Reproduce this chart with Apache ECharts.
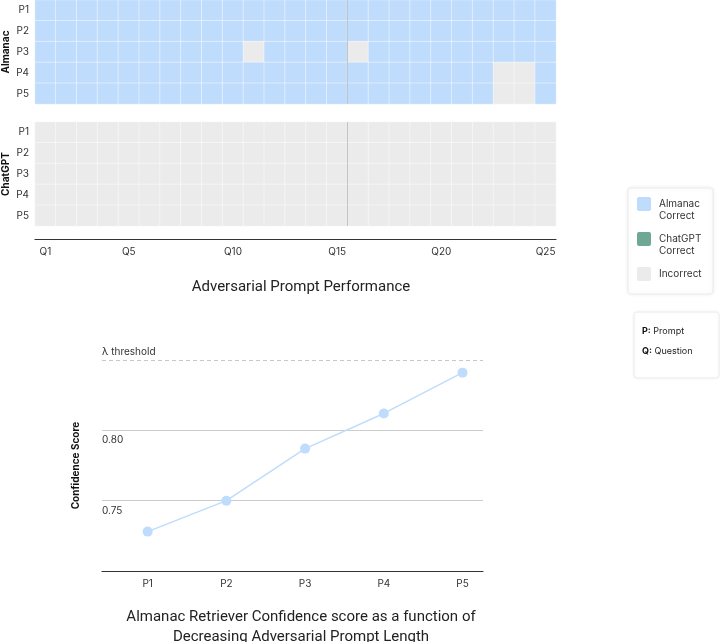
<!DOCTYPE html>
<html>
<head>
<meta charset="utf-8">
<script src="https://cdn.jsdelivr.net/npm/echarts@6/dist/echarts.min.js"></script>
<style>html,body{margin:0;padding:0;background:#fff;}#c{width:720px;height:642px;}</style>
</head>
<body>
<div id="c"></div>
<script>
var questions = ['Q1','Q2','Q3','Q4','Q5','Q6','Q7','Q8','Q9','Q10','Q11','Q12','Q13','Q14','Q15','Q16','Q17','Q18','Q19','Q20','Q21','Q22','Q23','Q24','Q25'];
var prompts = ['P1','P2','P3','P4','P5'];
// 1 = correct, 0 = incorrect
var almanacP1 = [1,1,1,1,1,1,1,1,1,1,1,1,1,1,1,1,1,1,1,1,1,1,1,1,1];
var almanacP2 = [1,1,1,1,1,1,1,1,1,1,1,1,1,1,1,1,1,1,1,1,1,1,1,1,1];
var almanacP3 = [1,1,1,1,1,1,1,1,1,1,0,1,1,1,1,0,1,1,1,1,1,1,1,1,1];
var almanacP4 = [1,1,1,1,1,1,1,1,1,1,1,1,1,1,1,1,1,1,1,1,1,1,0,0,1];
var almanacP5 = [1,1,1,1,1,1,1,1,1,1,1,1,1,1,1,1,1,1,1,1,1,1,0,0,1];
var chatgptP1 = [0,0,0,0,0,0,0,0,0,0,0,0,0,0,0,0,0,0,0,0,0,0,0,0,0];
var chatgptP2 = [0,0,0,0,0,0,0,0,0,0,0,0,0,0,0,0,0,0,0,0,0,0,0,0,0];
var chatgptP3 = [0,0,0,0,0,0,0,0,0,0,0,0,0,0,0,0,0,0,0,0,0,0,0,0,0];
var chatgptP4 = [0,0,0,0,0,0,0,0,0,0,0,0,0,0,0,0,0,0,0,0,0,0,0,0,0];
var chatgptP5 = [0,0,0,0,0,0,0,0,0,0,0,0,0,0,0,0,0,0,0,0,0,0,0,0,0];
var separatorAt = 15; // boundary between Q15 and Q16

var confidencePrompts = ['P1','P2','P3','P4','P5'];
var confidenceScores = [0.728, 0.750, 0.787, 0.812, 0.841];
var thresholdValue = 0.85;
var yTickLabels = ['0.75','0.80'];

var almanacRows = [almanacP1, almanacP2, almanacP3, almanacP4, almanacP5];
var chatgptRows = [chatgptP1, chatgptP2, chatgptP3, chatgptP4, chatgptP5];
function toCells(rows){
  var out = [];
  rows.forEach(function(r, pi){ r.forEach(function(v, qi){ out.push([qi, pi, v]); }); });
  return out;
}

var BLUE = '#bfdcfd', GREEN = '#6fa795', GREY = '#ebebeb';
var FONT = 'Inter, "Noto Sans", sans-serif';
var TFONT = 'Roboto, "Noto Sans", sans-serif';
var chart = echarts.init(document.getElementById('c'), null, {renderer:'canvas'});

var catY = function(gi, name){
  return {type:'category', gridIndex:gi, data:prompts, inverse:true,
    axisLine:{show:false}, axisTick:{show:false},
    axisLabel:{color:'#333', fontSize:10, fontFamily:FONT, margin:6},
    name:name, nameLocation:'middle', nameRotate:90, nameGap:24, nameMoveOverlap:false,
    nameTextStyle:{fontWeight:'bold', fontSize:10, color:'#111', fontFamily:FONT},
    splitLine:{show:false}};
};

var option = {
  animation:false,
  textStyle:{fontFamily:FONT},
  title:[
    {text:'Adversarial Prompt Performance', left:296, top:275, textAlign:'center',
     textStyle:{fontSize:15, fontWeight:'normal', color:'#222', fontFamily:TFONT}},
    {text:'Almanac Retriever Confidence score as a function of\nDecreasing Adversarial Prompt Length', left:296, top:602, textAlign:'center',
     textStyle:{fontSize:15, fontWeight:'normal', color:'#222', lineHeight:20, fontFamily:TFONT}}
  ],
  grid:[
    {left:35, top:0, width:521, height:104, outerBoundsMode:'none', containLabel:false},
    {left:35, top:122, width:521, height:104, outerBoundsMode:'none', containLabel:false},
    {left:102, right:237, top:360, bottom:71, outerBoundsMode:'none', containLabel:false}
  ],
  xAxis:[
    {type:'category', gridIndex:0, data:questions, show:false},
    {type:'category', gridIndex:1, data:questions, offset:13,
     axisLine:{lineStyle:{color:'#333', width:1.2}}, axisTick:{show:false},
     axisLabel:{color:'#333', fontSize:10, fontFamily:FONT, margin:8,
       interval:function(i){ return i===0 || (i+1)%5===0; }}},
    {type:'value', gridIndex:0, min:0, max:questions.length, show:false},
    {type:'value', gridIndex:1, min:0, max:questions.length, show:false},
    {type:'value', gridIndex:2, min:0.42, max:5.26,
     axisLine:{lineStyle:{color:'#333', width:1.2}}, axisTick:{show:false},
     splitLine:{show:false},
     axisLabel:{color:'#333', fontSize:10, fontFamily:FONT, margin:8,
       customValues:[1,2,3,4,5],
       formatter:function(v){ return confidencePrompts[Math.round(v)-1] || ''; }}}
  ],
  yAxis:[
    catY(0,'Almanac'),
    catY(1,'ChatGPT'),
    {type:'value', gridIndex:2, min:0.70, max:0.85, interval:0.05,
     axisLine:{show:false}, axisTick:{show:false},
     splitLine:{show:true, showMinLine:false, showMaxLine:false, lineStyle:{color:'#cccccc', width:1}},
     axisLabel:{inside:true, margin:0, verticalAlign:'top', padding:[5,0,0,0], color:'#333', fontSize:10, fontFamily:FONT,
       formatter:function(v){ var s=v.toFixed(2); return yTickLabels.indexOf(s)>=0 ? s : ''; }},
     name:'Confidence Score', nameLocation:'middle', nameRotate:90, nameGap:21, nameMoveOverlap:false,
     nameTextStyle:{fontWeight:'bold', fontSize:10, color:'#111', fontFamily:FONT}}
  ],
  visualMap:[
    {type:'piecewise', show:false, seriesIndex:0, dimension:2,
     pieces:[{value:1, color:BLUE},{value:0, color:GREY}]},
    {type:'piecewise', show:false, seriesIndex:1, dimension:2,
     pieces:[{value:1, color:GREEN},{value:0, color:GREY}]}
  ],
  series:[
    {type:'heatmap', xAxisIndex:0, yAxisIndex:0, data:toCells(almanacRows),
     itemStyle:{borderColor:'rgba(255,255,255,0.45)', borderWidth:1}, emphasis:{disabled:true}},
    {type:'heatmap', xAxisIndex:1, yAxisIndex:1, data:toCells(chatgptRows),
     itemStyle:{borderColor:'rgba(255,255,255,0.45)', borderWidth:1}, emphasis:{disabled:true}},
    {type:'line', xAxisIndex:2, yAxisIndex:0, data:[], silent:true,
     markLine:{symbol:'none', silent:true, label:{show:false},
       lineStyle:{color:'#c4c4c4', width:1, type:'solid'}, data:[{xAxis:separatorAt}]}},
    {type:'line', xAxisIndex:3, yAxisIndex:1, data:[], silent:true,
     markLine:{symbol:'none', silent:true, label:{show:false},
       lineStyle:{color:'#c4c4c4', width:1, type:'solid'}, data:[{xAxis:separatorAt}]}},
    {type:'line', xAxisIndex:4, yAxisIndex:2,
     data:confidenceScores.map(function(v,i){ return [i+1, v]; }),
     symbol:'circle', symbolSize:10,
     lineStyle:{color:BLUE, width:1.5}, itemStyle:{color:BLUE},
     markLine:{symbol:'none', silent:true,
       lineStyle:{color:'#c8c8c8', width:1, type:[4,3]},
       label:{show:true, position:'insideStartTop', formatter:'λ threshold', color:'#333', fontSize:10, fontFamily:FONT, distance:[0,3]},
       data:[{yAxis:thresholdValue}]}}
  ],
  graphic:[
    {type:'rect', shape:{x:628, y:188, width:85, height:106, r:3},
     style:{fill:'#fff', stroke:'#ececec', lineWidth:1, shadowBlur:4, shadowColor:'rgba(0,0,0,0.08)'}},
    {type:'rect', shape:{x:637, y:197, width:14, height:14, r:2}, style:{fill:BLUE}},
    {type:'text', x:659, y:198, style:{text:'Almanac\nCorrect', fill:'#333', fontSize:10, lineHeight:12, fontFamily:FONT}},
    {type:'rect', shape:{x:637, y:232, width:14, height:14, r:2}, style:{fill:GREEN}},
    {type:'text', x:659, y:233, style:{text:'ChatGPT\nCorrect', fill:'#333', fontSize:10, lineHeight:12, fontFamily:FONT}},
    {type:'rect', shape:{x:637, y:267, width:14, height:14, r:2}, style:{fill:GREY}},
    {type:'text', x:659, y:269, style:{text:'Incorrect', fill:'#333', fontSize:10, fontFamily:FONT}},
    {type:'rect', shape:{x:634, y:312, width:85, height:66, r:3},
     style:{fill:'#fff', stroke:'#ececec', lineWidth:1, shadowBlur:4, shadowColor:'rgba(0,0,0,0.06)'}},
    {type:'text', x:642, y:327, style:{text:'{b|P:} Prompt', fill:'#222', fontSize:9, fontFamily:FONT, rich:{b:{fontWeight:'bold', fontSize:9, fill:'#111', fontFamily:FONT}}}},
    {type:'text', x:642, y:347, style:{text:'{b|Q:} Question', fill:'#222', fontSize:9, fontFamily:FONT, rich:{b:{fontWeight:'bold', fontSize:9, fill:'#111', fontFamily:FONT}}}}
  ]
};
chart.setOption(option);
</script>
</body>
</html>
